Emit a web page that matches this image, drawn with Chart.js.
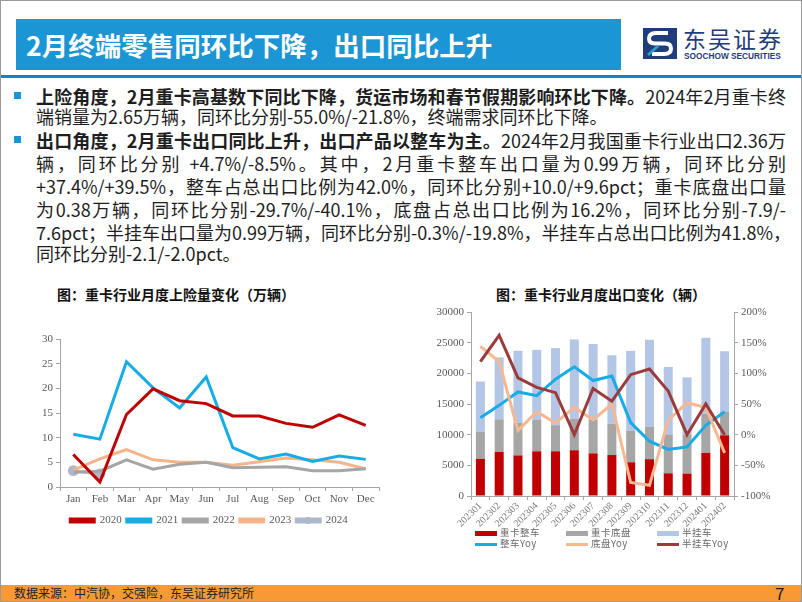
<!DOCTYPE html>
<html><head><meta charset="utf-8">
<script src="https://cdn.jsdelivr.net/npm/chart.js@4.4.1/dist/chart.umd.min.js"></script>
<style>
html,body{margin:0;padding:0;background:#fff;}
#slide{position:relative;width:802px;height:602px;box-sizing:border-box;border:1px solid #9a9a9a;overflow:hidden;font-family:"Noto Sans CJK SC",sans-serif;}
.abs{position:absolute;}
#titlebar{left:15px;top:18px;width:605px;height:51px;background:#1b95d3;color:#fff;font-weight:bold;font-size:26.5px;line-height:51px;padding-left:10px;box-sizing:border-box;white-space:nowrap;}
#rule{left:0;top:74px;width:802px;height:3px;background:#1b7fc4;}
.bul{width:7px;height:7px;background:#1a96d4;}
.ln{left:35px;width:750px;font-size:18px;line-height:20px;color:#1e1e1e;white-space:nowrap;}
.jf{text-align:justify;text-align-last:justify;}
.ctitle{font-size:14px;font-weight:bold;color:#111;white-space:nowrap;text-align:center;}
#footer{left:0;top:584px;width:802px;height:16px;background:#f79a36;}
#src{left:13px;top:584px;font-size:12px;line-height:16px;color:#222;}
#pg{left:774px;top:582px;font-size:17px;line-height:20px;color:#222;}
.lg{font-family:"Noto Sans CJK SC",sans-serif;font-size:9.5px;color:#6a6a6a;line-height:11px;white-space:nowrap;letter-spacing:0.5px;}
.sw{display:inline-block;width:22px;vertical-align:middle;margin-right:3px;}
</style></head>
<body>
<div id="slide">
  <div id="titlebar" class="abs">2月终端零售同环比下降，出口同比上升</div>
  <svg class="abs" style="left:642px;top:27px" width="34" height="31" viewBox="0 0 34 31">
    <rect x="0" y="0" width="34" height="31" fill="#1f3d7a"/>
    <path d="M25 5 L13 5 Q6 5 6 10.5 Q6 15.5 12 15.5 L22 15.5 Q28 15.5 28 20.5 Q28 26 21 26 L9 26" fill="none" stroke="#ffffff" stroke-width="4"/>
    <path d="M5 27 L15 18" stroke="#2a9be0" stroke-width="3"/>
  </svg>
  <div class="abs" style="left:682px;top:23px;font-size:23px;line-height:28px;color:#1f3d7a;letter-spacing:2px;white-space:nowrap;">东吴证券</div>
  <div class="abs" style="left:683px;top:51px;font-size:8.3px;line-height:9px;font-weight:bold;color:#1f3d7a;white-space:nowrap;font-family:'Liberation Sans',sans-serif;">SOOCHOW SECURITIES</div>
  <div id="rule" class="abs"></div>

  <div class="abs bul" style="left:13px;top:91px"></div>
  <div class="abs ln jf" style="top:85px"><b>上险角度，2月重卡高基数下同比下降，货运市场和春节假期影响环比下降。</b>2024年2月重卡终</div>
  <div class="abs ln" style="top:105px">端销量为2.65万辆，同环比分别-55.0%/-21.8%，终端需求同环比下降。</div>
  <div class="abs bul" style="left:13px;top:135px"></div>
  <div class="abs ln jf" style="top:129px"><b>出口角度，2月重卡出口同比上升，出口产品以整车为主。</b>2024年2月我国重卡行业出口2.36万</div>
  <div class="abs ln jf" style="top:152px">辆，同环比分别 +4.7%/-8.5%。其中，2月重卡整车出口量为0.99万辆，同环比分别</div>
  <div class="abs ln jf" style="top:175px">+37.4%/+39.5%，整车占总出口比例为42.0%，同环比分别+10.0/+9.6pct；重卡底盘出口量</div>
  <div class="abs ln jf" style="top:198px">为0.38万辆，同环比分别-29.7%/-40.1%，底盘占总出口比例为16.2%，同环比分别-7.9/-</div>
  <div class="abs ln jf" style="top:221px">7.6pct；半挂车出口量为0.99万辆，同环比分别-0.3%/-19.8%，半挂车占总出口比例为41.8%，</div>
  <div class="abs ln" style="top:242px">同环比分别-2.1/-2.0pct。</div>

  <div class="abs ctitle" style="left:40px;top:283px;width:270px;">图：重卡行业月度上险量变化（万辆）</div>
  <div class="abs ctitle" style="left:470px;top:283px;width:260px;">图：重卡行业月度出口变化（辆）</div>

  <canvas id="cL" class="abs" style="left:10px;top:320px" width="396" height="215"></canvas>
  <canvas id="cR" class="abs" style="left:400px;top:300px" width="400" height="235"></canvas>
  <div id="legR"></div>

  <div id="footer" class="abs"></div>
  <div id="src" class="abs">数据来源：中汽协，交强险，东吴证券研究所</div>
  <div id="pg" class="abs">7</div>
</div>
<script>
// ---- Left chart data (万辆) ----
const months = ['Jan','Feb','Mar','Apr','May','Jun','Jul','Aug','Sep','Oct','Nov','Dec'];
const y2020 = [6.6,1.0,14.7,19.9,17.5,16.9,14.4,14.4,12.9,12.1,14.6,12.5];
const y2021 = [10.7,9.7,25.4,20.1,16.0,22.3,8.0,5.7,6.7,5.2,6.3,5.6];
const y2022 = [3.0,3.2,5.5,3.6,4.6,5.0,3.9,4.0,4.1,3.3,3.3,3.7];
const y2023 = [3.4,5.7,7.6,5.5,5.0,5.0,4.4,5.1,5.9,5.5,5.0,3.7];
const y2024 = [3.3,2.65];
const leftTicks = {min:0,max:30,step:5};

// ---- Right chart data (辆, %) ----
const periods = ['202301','202302','202303','202304','202305','202306','202307','202308','202309','202310','202311','202312','202401','202402'];
const zhengche = [6050,7180,6620,7290,7290,7460,6950,6680,5500,6000,3700,3650,7030,9900];
const dipan    = [4430,5330,5330,5100,4260,5160,5440,5100,5150,5330,6340,6390,6370,3800];
const guache   = [8190,10090,11720,11440,12560,12900,12390,11160,13020,14130,11010,9310,12390,9900];
const zhengcheYoy = [27.5,47.8,69.7,63.5,90.4,110.7,88.2,95.5,19.7,-10.7,-24,-20,15.2,37.4];
const dipanYoy    = [144,119,6.7,37.6,19.1,44.4,24.2,50,-78,-82.6,23.6,52,44.4,-29.7];
const guacheYoy   = [119,162,92.7,77,68.5,0,75.3,54.5,97.8,107,71,0,50,-0.3];
const rightTicks = {min:0,max:30000,step:5000,pmin:-100,pmax:200,pstep:50};

const serif = "'Liberation Serif', 'Times New Roman', serif";
const tickColor = '#595959';
const axisColor = '#a6a6a6';

const legendDot = {
  id:'legendDot',
  afterDraw(chart){
    const lg = chart.legend; if(!lg || !lg.legendHitBoxes) return;
    const i = chart.data.datasets.findIndex(d=>d.legendDot);
    const hb = lg.legendHitBoxes[i]; if(!hb) return;
    const ctx = chart.ctx; ctx.save();
    ctx.fillStyle = chart.data.datasets[i].borderColor;
    ctx.beginPath(); ctx.arc(hb.left+12, hb.top+hb.height/2, 3.5, 0, Math.PI*2); ctx.fill();
    ctx.restore();
  }
};

new Chart(document.getElementById('cL'), {
  type:'line',
  data:{labels:months, datasets:[
    {label:'2020', data:y2020, borderColor:'#c00000', backgroundColor:'#c00000', borderWidth:3, pointRadius:0},
    {label:'2021', data:y2021, borderColor:'#16ade6', backgroundColor:'#16ade6', borderWidth:3, pointRadius:0},
    {label:'2022', data:y2022, borderColor:'#a5a5a5', backgroundColor:'#a5a5a5', borderWidth:3, pointRadius:0},
    {label:'2023', data:y2023, borderColor:'#f6b48a', backgroundColor:'#f6b48a', borderWidth:3, pointRadius:0},
    {label:'2024', data:y2024, borderColor:'#adb9ca', backgroundColor:'#adb9ca', borderWidth:3, pointRadius:4, pointBackgroundColor:'#adb9ca', legendDot:true}
  ]},
  options:{
    responsive:false, animation:false,
    layout:{padding:{top:18,right:28,left:28,bottom:0}},
    plugins:{
      legend:{position:'bottom', labels:{boxWidth:24, boxHeight:3, padding:5, color:tickColor, font:{family:serif,size:11}}},
      tooltip:{enabled:false}
    },
    scales:{
      x:{offset:true, grid:{offset:true, drawOnChartArea:false, tickLength:4, color:axisColor}, border:{color:axisColor},
         ticks:{color:tickColor, font:{family:serif,size:11}, padding:2, maxRotation:0},
         afterFit(s){s.height=23;}},
      y:{min:leftTicks.min, max:leftTicks.max, ticks:{stepSize:leftTicks.step, color:tickColor, font:{family:serif,size:11}, padding:3},
         grid:{drawOnChartArea:false, tickLength:4, color:axisColor}, border:{color:axisColor},
         afterFit(s){s.width=21;}}
    }
  },
  plugins:[legendDot]
});

const rChart = new Chart(document.getElementById('cR'), {
  data:{labels:periods, datasets:[
    {type:'line', label:'整车Yoy', data:zhengcheYoy, yAxisID:'y1', borderColor:'#17ace6', backgroundColor:'#17ace6', borderWidth:3, pointRadius:0, order:2},
    {type:'line', label:'底盘Yoy', data:dipanYoy, yAxisID:'y1', borderColor:'#f7b790', backgroundColor:'#f7b790', borderWidth:3, pointRadius:0, order:1},
    {type:'line', label:'半挂车Yoy', data:guacheYoy, yAxisID:'y1', borderColor:'#9c3b3b', backgroundColor:'#9c3b3b', borderWidth:3, pointRadius:0, order:0},
    {type:'bar', label:'重卡整车', data:zhengche, yAxisID:'y', backgroundColor:'#c00000', order:3, barPercentage:0.48, categoryPercentage:1},
    {type:'bar', label:'重卡底盘', data:dipan, yAxisID:'y', backgroundColor:'#a6a6a6', order:3, barPercentage:0.48, categoryPercentage:1},
    {type:'bar', label:'半挂车', data:guache, yAxisID:'y', backgroundColor:'#b4c6e6', order:3, barPercentage:0.48, categoryPercentage:1}
  ]},
  options:{
    responsive:false, animation:false,
    layout:{padding:{top:11,right:0,left:0,bottom:0}},
    plugins:{legend:{display:false}, tooltip:{enabled:false}},
    scales:{
      x:{stacked:true, offset:true, grid:{offset:true, drawOnChartArea:false, tickLength:4, color:axisColor}, border:{color:axisColor},
         ticks:{color:'#7a7a7a', font:{family:serif,size:10}, minRotation:45, maxRotation:45, padding:0, autoSkip:false},
         afterFit(s){s.height=40;}},
      y:{stacked:true, position:'left', min:rightTicks.min, max:rightTicks.max,
         ticks:{stepSize:rightTicks.step, color:tickColor, font:{family:serif,size:11}, padding:3, callback:v=>String(v)},
         grid:{drawOnChartArea:false, tickLength:4, color:axisColor}, border:{color:axisColor},
         afterFit(s){s.width=70;}},
      y1:{position:'right', min:rightTicks.pmin, max:rightTicks.pmax,
         ticks:{stepSize:rightTicks.pstep, color:tickColor, font:{family:serif,size:11}, padding:3, callback:v=>v+'%'},
         grid:{drawOnChartArea:false, tickLength:4, color:axisColor}, border:{color:axisColor},
         afterFit(s){s.width=67;}}
    }
  }
});

// HTML legend for right chart, built from datasets (3 columns x 2 rows)
(function(){
  const ds = rChart.data.datasets;
  const order = [3,4,5,0,1,2];
  const cols = [474,565,656], rows = [526,537];
  const box = document.getElementById('legR');
  order.forEach((di,k)=>{
    const d = ds[di];
    const el = document.createElement('div');
    el.className='abs lg';
    el.style.left = cols[k%3]+'px';
    el.style.top = rows[Math.floor(k/3)]+'px';
    const h = d.type==='bar' ? 5 : 3;
    el.innerHTML = '<span class="sw" style="height:'+h+'px;background:'+(d.backgroundColor)+'"></span>'+d.label;
    box.appendChild(el);
  });
})();
</script>
</body></html>
